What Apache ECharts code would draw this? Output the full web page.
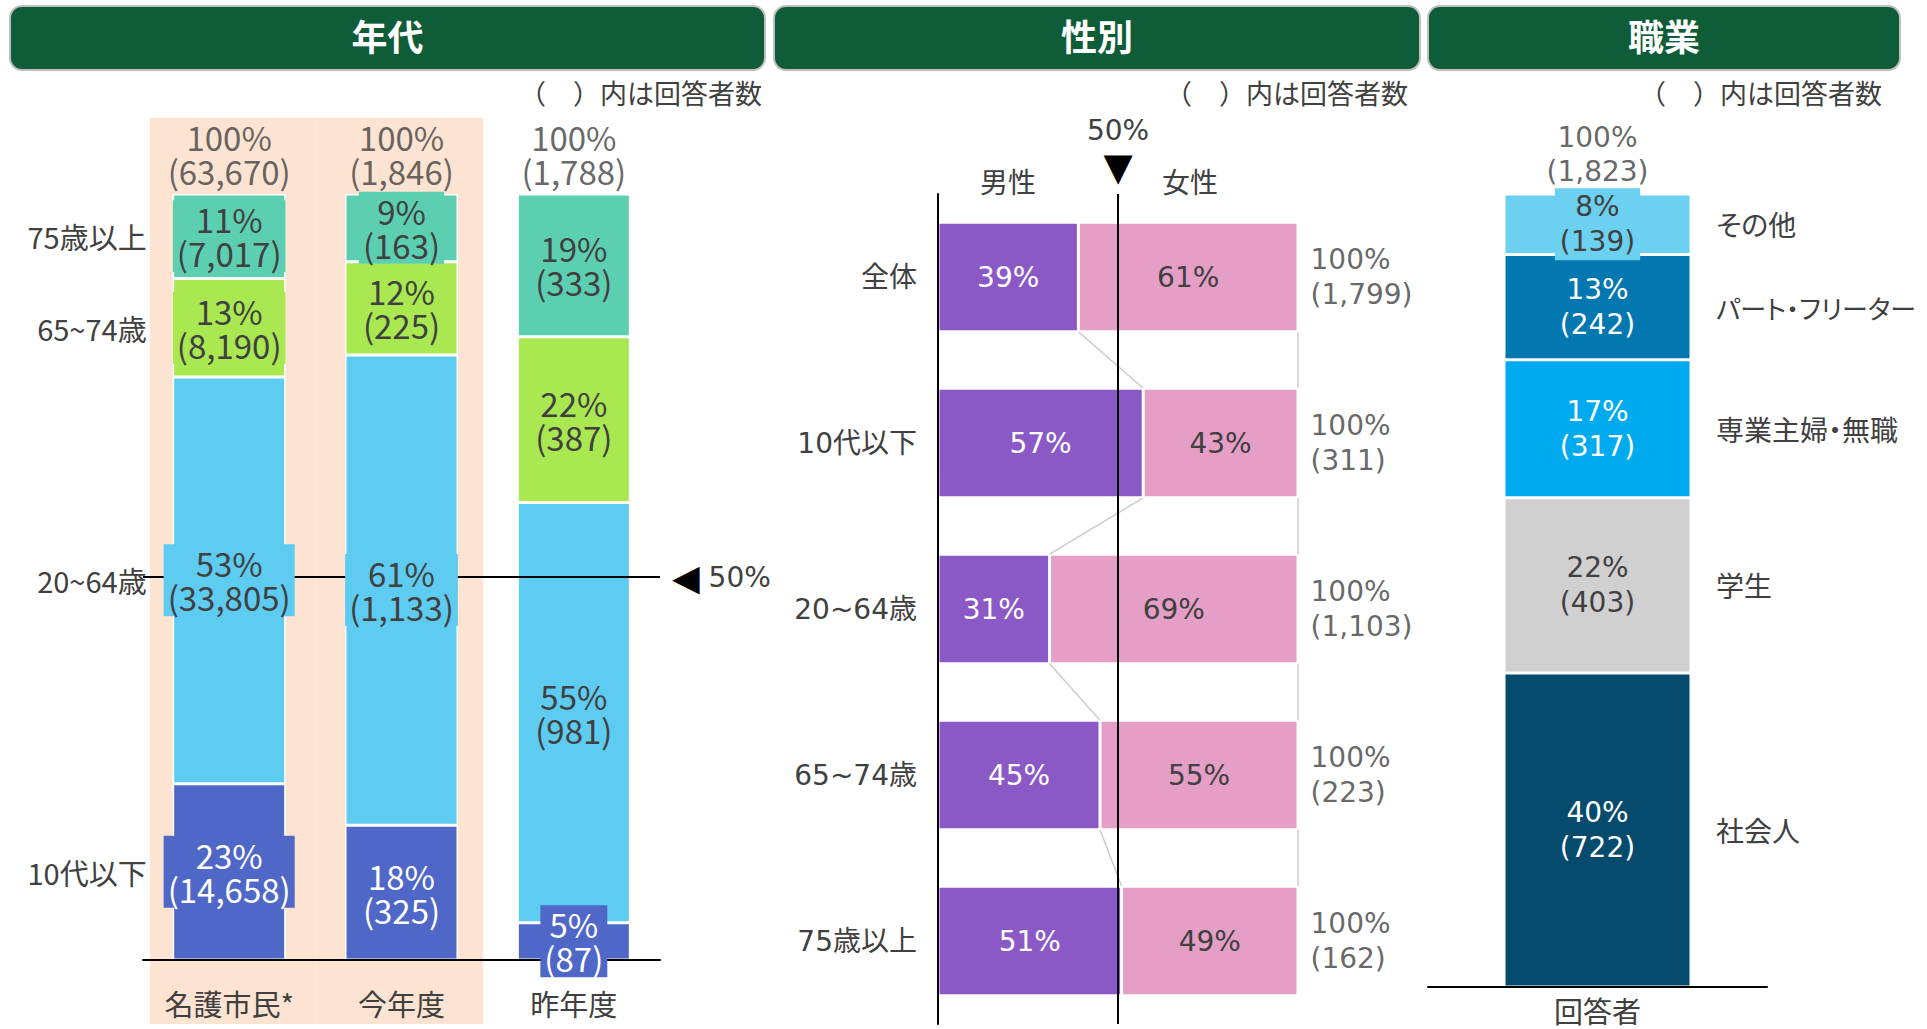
<!DOCTYPE html>
<html><head><meta charset="utf-8">
<script src="https://cdn.jsdelivr.net/npm/echarts@6/dist/echarts.min.js"></script>
<style>
html,body{margin:0;padding:0;background:#fff;overflow:hidden;}
#c{width:1927px;height:1029px;}
#c svg text{font-feature-settings:"palt" 1;}
</style></head><body><div id="c"></div>
<script>
// ===== DATA =====
// 年代
const ageCategories = ['名護市民*', '今年度', '昨年度'];
const ageGroupNames = ['10代以下', '20~64歳', '65~74歳', '75歳以上']; // bottom -> top
const ageCount10s   = [14658, 325, 87];
const ageCount20to64 = [33805, 1133, 981];
const ageCount65to74 = [8190, 225, 387];
const ageCount75up  = [7017, 163, 333];
const agePct10s   = [23, 18, 5];
const agePct20to64 = [53, 61, 55];
const agePct65to74 = [13, 12, 22];
const agePct75up  = [11, 9, 19];
const ageTotals   = [63670, 1846, 1788];
const ageTotalPct = [100, 100, 100];
const ageHighlight = [1, 1, 0];
const ageRefLine = 50;

// 性別
const genderRows = ['全体', '10代以下', '20~64歳', '65~74歳', '75歳以上'];
const genderNames = ['男性', '女性'];
const malePct   = [39, 57, 31, 45, 51];
const femalePct = [61, 43, 69, 55, 49];
const genderTotals = [1799, 311, 1103, 223, 162];
const genderTotalPct = [100, 100, 100, 100, 100];
const genderRefLine = 50;

// 職業
const jobCategories = ['回答者'];
const jobNames  = ['社会人', '学生', '専業主婦・無職', 'パート・フリーター', 'その他']; // bottom -> top
const jobCounts = [722, 403, 317, 242, 139];
const jobPct    = [40, 22, 17, 13, 8];
const jobTotal  = 1823;
const jobTotalPct = 100;

// ===== STYLE =====
const JP = '"Noto Sans CJK JP", sans-serif';
const NUM = '"DejaVu Sans", "Noto Sans CJK JP", sans-serif';
const TXT = '#404040';
const fmt = n => n.toLocaleString('en-US');

const ageCounts = [ageCount10s, ageCount20to64, ageCount65to74, ageCount75up];
const agePcts = [agePct10s, agePct20to64, agePct65to74, agePct75up];
const ageColors = ['#4F67C7', '#5ECBF1', '#A9E851', '#5DCFB1'];
const ageTextColors = ['#ffffff', TXT, TXT, TXT];
const genderColors = ['#8B59C6', '#E59FC6'];
const genderTextColors = ['#ffffff', TXT];
const jobColors = ['#054B6E', '#D0D0D0', '#00AAEF', '#0277B0', '#6CD1F0'];
const jobTextColors = ['#ffffff', TXT, '#ffffff', '#ffffff', TXT];
const jobNameSizes = [28, 28, 28, 26, 28];

const series = [];

// peach highlight band
series.push({
  type: 'bar', xAxisIndex: 3, yAxisIndex: 3, data: ageHighlight, barWidth: '100%',
  itemStyle: { color: '#FDE4D2' }, silent: true, z: 0
});

// age bars
ageGroupNames.forEach((name, g) => {
  const share = ageCounts[g].map((c, i) => c / ageTotals[i] * 100);
  const s = {
    type: 'bar', name: name, stack: 'age', xAxisIndex: 0, yAxisIndex: 0,
    barWidth: 113, barGap: '-100%', z: 2, silent: true,
    itemStyle: { color: ageColors[g], borderColor: '#fff', borderWidth: 1.5 },
    label: { show: false },
    data: share.map((v, i) => i === 0 ? {
      value: v,
      label: { show: true, position: 'left', distance: 26, formatter: name,
               fontFamily: JP, fontSize: 29, color: TXT }
    } : v)
  };
  if (g === 0) {
    s.markLine = {
      silent: true, z: 5, symbol: ['none', 'none'],
      lineStyle: { color: '#000', width: 2, type: 'solid' },
      label: { show: true, position: 'end', distance: 12,
               formatter: '{t|◀} ' + ageRefLine + '%',
               fontFamily: NUM, fontSize: 28, color: TXT,
               rich: { t: { fontSize: 36, color: '#000', fontFamily: NUM } } },
      data: [{ yAxis: ageRefLine }]
    };
  }
  series.push(s);
});
// age labels (drawn above the 50% line)
ageGroupNames.forEach((name, g) => {
  const share = ageCounts[g].map((c, i) => c / ageTotals[i] * 100);
  series.push({
    type: 'bar', name: name + ' ', stack: 'ageLbl', xAxisIndex: 0, yAxisIndex: 0,
    barWidth: 113, barGap: '-100%', z: 6, silent: true,
    itemStyle: { color: 'transparent' },
    label: { show: true, position: 'inside',
      formatter: p => agePcts[g][p.dataIndex] + '%\n(' + fmt(ageCounts[g][p.dataIndex]) + ')',
      fontFamily: JP, fontSize: 33, lineHeight: 34, color: ageTextColors[g],
      backgroundColor: ageColors[g], padding: [2, 4] },
    data: share
  });
});
// age totals
series.push({
  type: 'scatter', xAxisIndex: 0, yAxisIndex: 0, data: ageTotalPct, symbolSize: 1, z: 7, silent: true,
  itemStyle: { color: 'transparent' },
  label: { show: true, position: 'top', distance: 6,
    formatter: p => ageTotalPct[p.dataIndex] + '%\n(' + fmt(ageTotals[p.dataIndex]) + ')',
    fontFamily: JP, fontSize: 33, lineHeight: 34, color: TXT }
});

// gender bars
[malePct, femalePct].forEach((arr, k) => {
  const s = {
    type: 'bar', name: genderNames[k], stack: 'gender', xAxisIndex: 1, yAxisIndex: 1,
    barWidth: '66%', z: 2, silent: true,
    itemStyle: { color: genderColors[k], borderColor: '#fff', borderWidth: 1.5 },
    label: { show: true, position: 'inside', formatter: p => arr[p.dataIndex] + '%',
             fontFamily: NUM, fontSize: 28, color: genderTextColors[k] },
    data: arr
  };
  if (k === 0) {
    s.markLine = {
      silent: true, z: 5, symbol: ['none', 'none'],
      lineStyle: { color: '#000', width: 2, type: 'solid' },
      label: { show: true, position: 'start', distance: 10,
               formatter: genderRefLine + '%\n{t|▼}',
               fontFamily: NUM, fontSize: 28, lineHeight: 40, color: TXT,
               rich: { t: { fontSize: 38, lineHeight: 34, color: '#000', fontFamily: NUM } } },
      data: [{ xAxis: genderRefLine }]
    };
  }
  series.push(s);
});
// gender connectors
series.push({
  type: 'custom', xAxisIndex: 1, yAxisIndex: 1, z: 1, silent: true,
  encode: { x: [0, 2, 4, 5], y: [1, 3] },
  data: genderRows.slice(0, -1).map((r, i) =>
    [malePct[i], i, malePct[i + 1], i + 1, malePct[i] + femalePct[i], malePct[i + 1] + femalePct[i + 1]]),
  renderItem: function (params, api) {
    const half = api.size([0, 1])[1] * 0.33;
    const a = api.coord([api.value(0), api.value(1)]);
    const b = api.coord([api.value(2), api.value(3)]);
    const c = api.coord([api.value(4), api.value(1)]);
    const d = api.coord([api.value(5), api.value(3)]);
    const st = { stroke: '#CCCCCC', lineWidth: 1.5 };
    return { type: 'group', children: [
      { type: 'line', shape: { x1: a[0], y1: a[1] + half, x2: b[0], y2: b[1] - half }, style: st },
      { type: 'line', shape: { x1: c[0], y1: c[1] + half, x2: d[0], y2: d[1] - half }, style: st }
    ] };
  }
});
// gender totals
series.push({
  type: 'scatter', xAxisIndex: 1, yAxisIndex: 1, symbolSize: 1, z: 7, silent: true,
  itemStyle: { color: 'transparent' },
  data: genderRows.map((r, i) => [genderTotalPct[i], i]),
  label: { show: true, position: 'right', distance: 12, align: 'left',
    formatter: p => genderTotalPct[p.dataIndex] + '%\n(' + fmt(genderTotals[p.dataIndex]) + ')',
    fontFamily: NUM, fontSize: 28, lineHeight: 35, color: TXT }
});

// job bars
jobNames.forEach((name, g) => {
  const share = [jobCounts[g] / jobTotal * 100];
  series.push({
    type: 'bar', name: name, stack: 'job', xAxisIndex: 2, yAxisIndex: 2,
    barWidth: 187, barGap: '-100%', z: 2, silent: true,
    itemStyle: { color: jobColors[g], borderColor: '#fff', borderWidth: 1.5 },
    label: { show: true, position: 'inside',
      formatter: jobPct[g] + '%\n(' + fmt(jobCounts[g]) + ')',
      fontFamily: NUM, fontSize: 28, lineHeight: 35, color: jobTextColors[g],
      backgroundColor: jobColors[g], padding: [1, 5] },
    data: share
  });
  series.push({
    type: 'bar', name: name + ' ', stack: 'jobLbl', xAxisIndex: 2, yAxisIndex: 2,
    barWidth: 187, barGap: '-100%', z: 2, silent: true,
    itemStyle: { color: 'transparent' },
    label: { show: true, position: 'right', distance: 25, formatter: name,
      fontFamily: JP, fontSize: jobNameSizes[g], color: TXT },
    data: share
  });
});
// job total
series.push({
  type: 'scatter', xAxisIndex: 2, yAxisIndex: 2, data: [jobTotalPct], symbolSize: 1, z: 1, silent: true,
  itemStyle: { color: 'transparent' },
  label: { show: true, position: 'top', distance: 5,
    formatter: jobTotalPct + '%\n(' + fmt(jobTotal) + ')',
    fontFamily: NUM, fontSize: 28, lineHeight: 34, color: TXT }
});

// ===== DECORATION =====
const headers = [
  { text: '年代', x: 10, y: 6, w: 755, h: 64 },
  { text: '性別', x: 774, y: 6, w: 646, h: 64 },
  { text: '職業', x: 1428, y: 6, w: 472, h: 64 }
];
const noteRight = [762, 1408, 1882];
const graphic = [];
headers.forEach(h => {
  graphic.push({ type: 'rect', silent: true, shape: { x: h.x, y: h.y, width: h.w, height: h.h, r: 12 },
    style: { fill: '#0F5C39', stroke: '#BFBFBF', lineWidth: 2 } });
  graphic.push({ type: 'text', silent: true, x: h.x + h.w / 2, y: h.y + h.h / 2 - 3,
    style: { text: h.text, fill: '#fff', font: 'bold 36px "Noto Sans CJK JP"',
             align: 'center', verticalAlign: 'middle', textAlign: 'center', textVerticalAlign: 'middle' } });
});
noteRight.forEach(r => graphic.push({ type: 'text', silent: true, x: r, y: 92,
  style: { text: '（　）内は回答者数', fill: TXT, font: '27px "Noto Sans CJK JP"',
           align: 'right', verticalAlign: 'middle', textAlign: 'right', textVerticalAlign: 'middle' } }));
[[1008, genderNames[0]], [1190, genderNames[1]]].forEach(([x, t]) => graphic.push({
  type: 'text', silent: true, x: x, y: 181,
  style: { text: t, fill: TXT, font: '28px "Noto Sans CJK JP"',
           align: 'center', verticalAlign: 'middle', textAlign: 'center', textVerticalAlign: 'middle' } }));

const option = {
  animation: false,
  textStyle: { fontFamily: JP },
  grid: [
    { left: 143, top: 194, width: 517, height: 766 },
    { left: 938, top: 194, width: 360, height: 830 },
    { left: 1428, top: 194, width: 339, height: 793 },
    { left: 150, top: 118, width: 500, height: 906 }
  ],
  xAxis: [
    { gridIndex: 0, type: 'category', data: ageCategories, z: 3,
      axisLine: { lineStyle: { color: '#000', width: 2 } }, axisTick: { show: false },
      axisLabel: { fontFamily: JP, fontSize: 29, color: TXT, margin: 28 } },
    { gridIndex: 1, type: 'value', min: 0, max: 100, show: false },
    { gridIndex: 2, type: 'category', data: jobCategories, z: 3,
      axisLine: { lineStyle: { color: '#000', width: 2 } }, axisTick: { show: false },
      axisLabel: { fontFamily: JP, fontSize: 29, color: TXT, margin: 8 } },
    { gridIndex: 3, type: 'category', data: ageCategories, show: false }
  ],
  yAxis: [
    { gridIndex: 0, type: 'value', min: 0, max: 100, show: false },
    { gridIndex: 1, type: 'category', data: genderRows, inverse: true, z: 3,
      axisLine: { lineStyle: { color: '#000', width: 2 } }, axisTick: { show: false },
      axisLabel: { fontFamily: NUM, fontSize: 28, color: TXT, margin: 21 } },
    { gridIndex: 2, type: 'value', min: 0, max: 100, show: false },
    { gridIndex: 3, type: 'value', min: 0, max: 1, show: false }
  ],
  graphic: graphic,
  series: series
};

const chart = echarts.init(document.getElementById('c'), null, { renderer: 'svg' });
chart.setOption(option);
</script>
</body></html>
